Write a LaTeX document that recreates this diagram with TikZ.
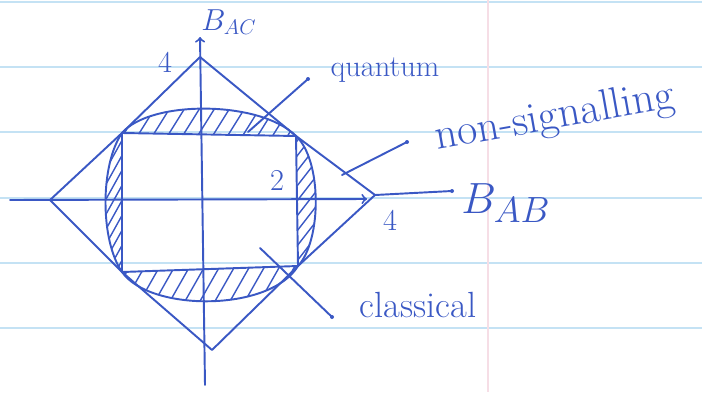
\documentclass[tikz,border=0pt]{standalone}
\usepackage{amsmath,amssymb}
\usepackage{xcolor}
\usepackage{tikz}
\usetikzlibrary{arrows,positioning}
\definecolor{inkblue}{RGB}{58, 88, 196}
\definecolor{ruleblue}{RGB}{196, 226, 244}
\definecolor{marginpink}{RGB}{246, 222, 230}

\begin{document}
\begin{tikzpicture}[x=0.02cm, y=-0.02cm,
    ink/.style={inkblue, line width=1.1pt, line cap=round, line join=round},
    hatch/.style={inkblue, line width=0.8pt},
    lbl/.style={inkblue, inner sep=1pt}]
\useasboundingbox (0,0) rectangle (702,392);

% Notebook paper
\foreach \y in {2,67,132,198,263,328} {
    \draw[ruleblue, line width=0.8pt] (0,\y) -- (702,\y);
}
\draw[marginpink, line width=0.8pt] (488,0) -- (488,392);

% Corners of the classical square
\coordinate (tl) at (122,133);
\coordinate (tr) at (296,136);
\coordinate (br) at (298,266);
\coordinate (bl) at (122,272);

% Vertices of the non-signalling diamond
\coordinate (dtop) at (200,57);
\coordinate (dright) at (375,195);
\coordinate (dbottom) at (212,350);
\coordinate (dleft) at (50,200);

% Hatched quantum segments
\begin{scope}
    \clip (tl) .. controls (150,100) and (260,100) .. (tr) -- cycle;
    \foreach \k in {60,75,...,330} { \draw[hatch] (\k,140) -- (\k+25,100); }
\end{scope}
\begin{scope}
    \clip (tr) .. controls (322,160) and (322,240) .. (br) -- cycle;
    \foreach \k in {120,135,...,290} { \draw[hatch] (290,\k) -- (325,\k-45); }
\end{scope}
\begin{scope}
    \clip (br) .. controls (270,312) and (150,312) .. (bl) -- cycle;
    \foreach \k in {90,105,...,330} { \draw[hatch] (\k,310) -- (\k+25,266); }
\end{scope}
\begin{scope}
    \clip (bl) .. controls (100,240) and (100,165) .. (tl) -- cycle;
    \foreach \k in {120,135,...,300} { \draw[hatch] (100,\k) -- (125,\k-45); }
\end{scope}

% Quantum boundary
\draw[ink] (tl) .. controls (150,100) and (260,100) .. (tr)
    .. controls (322,160) and (322,240) .. (br)
    .. controls (270,312) and (150,312) .. (bl)
    .. controls (100,240) and (100,165) .. (tl);

% Classical square
\draw[ink] (tl) -- (tr) -- (br) -- (bl) -- cycle;

% Non-signalling diamond
\draw[ink] (dleft) -- (tl) -- (dtop) -- (tr) -- (dright) -- (br) -- (dbottom) -- (bl) -- cycle;

% Axes
\coordinate (acbottom) at (205,385);
\coordinate (actop) at (200,37);
\coordinate (ableft) at (10,200);
\coordinate (abtip) at (367,199);
\coordinate (abend) at (452,191);
\draw[ink, ->] (acbottom) -- (actop);
\draw[ink, ->] (ableft) -- (abtip);
\draw[ink] (dright) -- (abend);

% Axis labels and values
\node[lbl, font=\LARGE] (bac) at (229,22) {$B_{AC}$};
\node[lbl, font=\Huge] (bab) at (506,203) {$B_{AB}$};
\node[lbl, font=\LARGE] (fourtop) at (165,62) {4};
\node[lbl, font=\LARGE] (fourright) at (390,220) {4};
\node[lbl, font=\LARGE] (two) at (277,180) {2};

% Region labels with leaders
\node[lbl, font=\LARGE] (quantum) at (385,70) {quantum};
\node[lbl, font=\Huge, rotate=10] (nonsig) at (555,118) {non-signalling};
\node[lbl, font=\huge] (classical) at (418,305) {classical};

\coordinate (qdot) at (308,79);
\coordinate (qend) at (248,132);
\coordinate (ndot) at (407,142);
\coordinate (nend) at (342,175);
\coordinate (cdot) at (332,317);
\coordinate (cend) at (260,248);
\draw[ink] (qdot) -- (qend);
\draw[ink] (ndot) -- (nend);
\draw[ink] (cdot) -- (cend);
\foreach \d in {qdot,ndot,cdot,abend} { \fill[inkblue] (\d) circle (2); }
\end{tikzpicture}
\end{document}
